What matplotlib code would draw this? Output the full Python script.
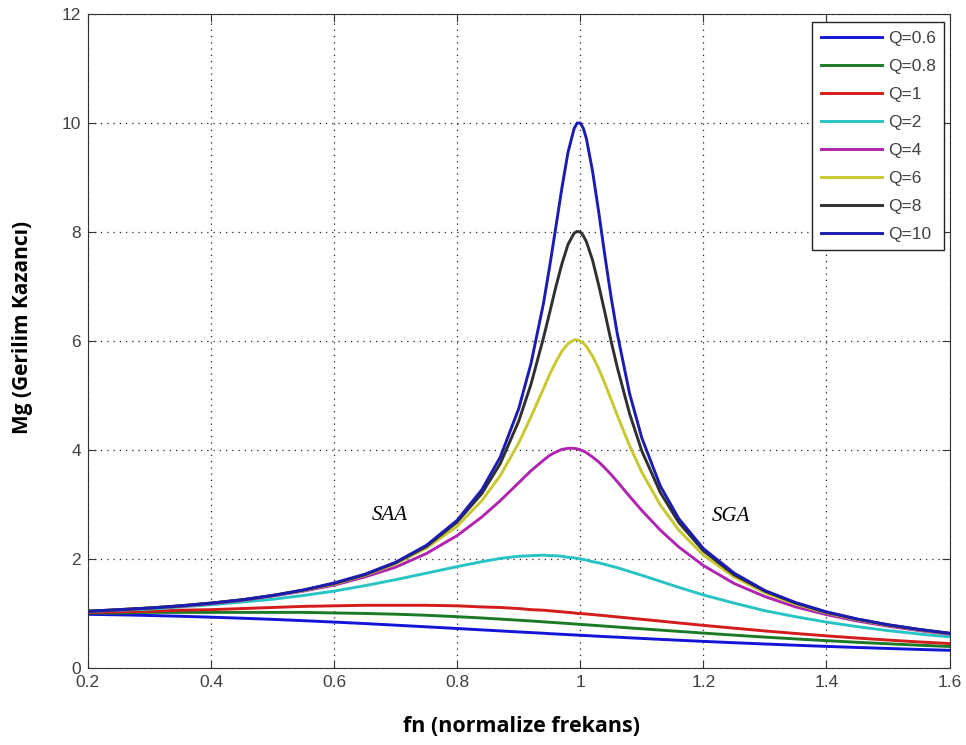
import numpy as np
import matplotlib
matplotlib.use('Agg')
import matplotlib.pyplot as plt

# normalize frekans noktalari
fn = [0.2, 0.25, 0.3, 0.35, 0.4, 0.45, 0.5, 0.55, 0.6, 0.65, 0.7, 0.75, 0.8, 0.84, 0.87, 0.9, 0.92, 0.94, 0.95,
      0.96, 0.97, 0.98, 0.99, 0.995, 1.0, 1.005, 1.01, 1.02, 1.03, 1.04, 1.05, 1.06, 1.08, 1.1, 1.13, 1.16, 1.2,
      1.25, 1.3, 1.35, 1.4, 1.45, 1.5, 1.55, 1.6]

# gerilim kazanci egrileri
mg_q06 = [0.984, 0.975, 0.963, 0.949, 0.932, 0.913, 0.892, 0.868, 0.842, 0.815, 0.785, 0.755, 0.724, 0.699, 0.68,
          0.661, 0.649, 0.637, 0.63, 0.624, 0.618, 0.612, 0.606, 0.603, 0.6, 0.597, 0.594, 0.588, 0.582, 0.576,
          0.57, 0.565, 0.553, 0.542, 0.525, 0.509, 0.488, 0.463, 0.44, 0.417, 0.396, 0.376, 0.358, 0.34, 0.324]
mg_q08 = [1.01, 1.01, 1.02, 1.02, 1.02, 1.02, 1.02, 1.02, 1.01, 1, 0.987, 0.967, 0.941, 0.917, 0.897, 0.876, 0.862,
          0.847, 0.839, 0.832, 0.824, 0.816, 0.808, 0.804, 0.8, 0.796, 0.792, 0.784, 0.776, 0.768, 0.76, 0.751,
          0.735, 0.719, 0.695, 0.671, 0.64, 0.602, 0.566, 0.533, 0.501, 0.471, 0.444, 0.418, 0.394]
mg_q1 = [1.02, 1.03, 1.04, 1.06, 1.07, 1.09, 1.11, 1.13, 1.14, 1.15, 1.15, 1.15, 1.14, 1.12, 1.11, 1.09, 1.07, 1.06,
         1.05, 1.04, 1.03, 1.02, 1.01, 1, 1, 0.995, 0.99, 0.98, 0.969, 0.959, 0.948, 0.937, 0.915, 0.893, 0.86,
         0.826, 0.782, 0.73, 0.679, 0.633, 0.589, 0.549, 0.512, 0.478, 0.448]
mg_q2 = [1.04, 1.06, 1.08, 1.12, 1.16, 1.21, 1.26, 1.33, 1.41, 1.51, 1.62, 1.74, 1.86, 1.95, 2.01, 2.05, 2.06, 2.07,
         2.06, 2.06, 2.05, 2.03, 2.02, 2.01, 2, 1.99, 1.98, 1.95, 1.93, 1.9, 1.87, 1.84, 1.77, 1.7, 1.59, 1.48,
         1.34, 1.19, 1.05, 0.94, 0.842, 0.758, 0.686, 0.624, 0.57]
mg_q4 = [1.04, 1.06, 1.1, 1.13, 1.18, 1.24, 1.32, 1.41, 1.52, 1.67, 1.85, 2.1, 2.43, 2.77, 3.07, 3.4, 3.62, 3.81,
         3.9, 3.96, 4.01, 4.03, 4.03, 4.02, 4, 3.98, 3.95, 3.87, 3.78, 3.67, 3.55, 3.42, 3.15, 2.89, 2.53, 2.22,
         1.88, 1.55, 1.31, 1.12, 0.979, 0.862, 0.766, 0.687, 0.621]
mg_q6 = [1.04, 1.07, 1.1, 1.14, 1.19, 1.25, 1.33, 1.42, 1.54, 1.7, 1.91, 2.2, 2.6, 3.07, 3.53, 4.13, 4.61, 5.12,
         5.38, 5.61, 5.81, 5.95, 6.02, 6.02, 6, 5.96, 5.9, 5.72, 5.49, 5.22, 4.93, 4.64, 4.08, 3.59, 2.99, 2.53,
         2.07, 1.67, 1.38, 1.17, 1.01, 0.886, 0.784, 0.701, 0.632]
mg_q8 = [1.04, 1.07, 1.1, 1.14, 1.19, 1.25, 1.33, 1.43, 1.55, 1.71, 1.93, 2.23, 2.68, 3.2, 3.75, 4.53, 5.21, 6.05,
         6.51, 6.98, 7.41, 7.77, 7.98, 8.01, 8, 7.93, 7.82, 7.48, 7.02, 6.52, 6, 5.52, 4.67, 3.98, 3.22, 2.67,
         2.15, 1.71, 1.41, 1.19, 1.02, 0.895, 0.791, 0.706, 0.636]
mg_q10 = [1.04, 1.07, 1.1, 1.14, 1.19, 1.25, 1.33, 1.43, 1.56, 1.72, 1.94, 2.25, 2.71, 3.27, 3.87, 4.76, 5.59, 6.68,
          7.35, 8.07, 8.8, 9.46, 9.9, 10, 10, 9.9, 9.71, 9.11, 8.36, 7.56, 6.81, 6.14, 5.04, 4.22, 3.34, 2.74,
          2.19, 1.74, 1.42, 1.2, 1.03, 0.899, 0.794, 0.709, 0.638]

labels = ['Q=0.6', 'Q=0.8', 'Q=1', 'Q=2', 'Q=4', 'Q=6', 'Q=8', 'Q=10']
curves = [mg_q06, mg_q08, mg_q1, mg_q2, mg_q4, mg_q6, mg_q8, mg_q10]
colors = ['#1414d8', '#1b7a26', '#d41c1c', '#28c4c4', '#b024b0', '#c8c830', '#303030', '#1c1cb0']

plt.rcParams['font.family'] = 'Liberation Sans'

fig = plt.figure(figsize=(9.66, 7.45), dpi=100)
ax = fig.add_axes([0.091, 0.1034, 0.892, 0.8778])

for y, c, lab in zip(curves, colors, labels):
    ax.plot(fn, y, color=c, lw=2.1, label=lab)

ax.set_xlim(0.2, 1.6)
ax.set_ylim(0, 12)
ax.set_xticks([0.2, 0.4, 0.6, 0.8, 1, 1.2, 1.4, 1.6])
ax.set_xticklabels(['0.2', '0.4', '0.6', '0.8', '1', '1.2', '1.4', '1.6'])
ax.set_yticks([0, 2, 4, 6, 8, 10, 12])
ax.grid(True, linestyle=(0, (1, 4)), color='#222222', lw=0.9)
ax.tick_params(direction='in', length=6, top=True, right=True, labelsize=12.5,
               labelcolor='#404040', color='#333333', pad=5)
for sp in ax.spines.values():
    sp.set_color('#333333')

ax.set_xlabel('fn (normalize frekans)', fontsize=15.5, fontweight='bold', family='Open Sans')
ax.set_ylabel('Mg (Gerilim Kazancı)', fontsize=15, fontweight='bold', family='Open Sans')
ax.xaxis.set_label_coords(0.503, -0.0735)
ax.yaxis.set_label_coords(-0.064, 0.52)

ax.text(0.69, 2.8, 'SAA', fontsize=15, style='italic', family='Liberation Serif', ha='center', va='center')
ax.text(1.245, 2.78, 'SGA', fontsize=15, style='italic', family='Liberation Serif', ha='center', va='center')

leg = ax.legend(loc='upper right', bbox_to_anchor=(0.994, 0.988), borderaxespad=0, fontsize=12.5,
                handlelength=3.5, labelspacing=0.74, handletextpad=0.35, borderpad=0.5,
                fancybox=False, framealpha=1)
leg.get_frame().set_edgecolor('#222222')
leg.get_frame().set_linewidth(1.0)
for t in leg.get_texts():
    t.set_color('#404040')

fig.savefig('out.png')
